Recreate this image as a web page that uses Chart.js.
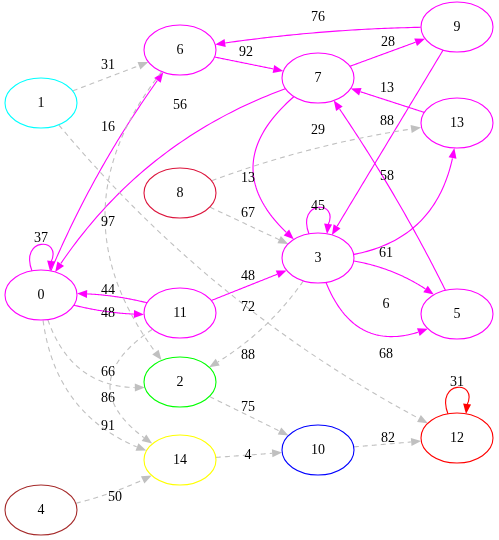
<!DOCTYPE html>
<html><head><meta charset="utf-8">
<script src="https://cdn.jsdelivr.net/npm/chart.js@4/dist/chart.umd.min.js"></script>
<style>html,body{margin:0;padding:0;background:#fff}#w{width:499px;height:540px}</style>
</head><body><div id="w"><canvas id="c"></canvas></div>
<script>
const nodeIds   = [0,1,2,3,4,5,6,7,8,9,10,11,12,13,14];
const nodeX     = [41,41,180,318,41,457,180,318,180,457,318,180,457,457,180];
const nodeY     = [295,103,382,258,510,314,50,78,193,27,450,313,438,123,460];
const nodeColor = ['#ff00ff','#00ffff','#00ff00','#ff00ff','#a52a2a','#ff00ff','#ff00ff','#ff00ff','#dc143c','#ff00ff','#0000ff','#ff00ff','#ff0000','#ff00ff','#ffff00'];
// edges: from, to, label, solid?, bend, labelX, labelY
const edgeFrom  = [1,6,7,9,9,5,7,0,7,13,8,8,6,11,0,11,1,3,3,3,11,0,0,2,10,14,4,3,3,0,12];
const edgeTo    = [6,7,9,6,3,7,0,6,3,7,13,3,2,0,11,3,12,5,5,2,14,2,14,10,12,10,14,13,3,0,12];
const edgeLabel = ['31','92','28','76','58','29','56','16','13','13','88','67','97','44','48','48','72','6','68','88','66','86','91','75','82','4','50','61','45','37','31'];
const edgeSolid = [0,1,1,1,1,1,1,1,1,1,0,0,0,1,1,1,0,1,1,0,0,0,0,0,0,0,0,1,1,1,1];
const edgeBend  = [0,0,0,12,0,12,70,-20,130,0,-20,0,150,16,16,0,60,-30,100,-30,140,85,85,0,0,0,15,90,0,0,0];
const labelX    = [108,246,388,318,387,318,180,108,248,387,387,248,108,108,108,248,248,386,386,248,108,108,108,248,388,248,115,386,318,41,457];
const labelY    = [65,52,42,17,176,130,105,127,178,88,121,213,222,290,313,276,307,304,354,355,372,398,426,407,438,455,497,253,206,238,382];

const graphPlugin = {
  id:'graph',
  afterDatasetsDraw(chart){
    const ctx = chart.ctx, xs = chart.scales.x, ys = chart.scales.y;
    const P = i => [xs.getPixelForValue(nodeX[i]), ys.getPixelForValue(nodeY[i])];
    const RX = 36, RY = 25;
    const inside = (p,i) => { const c=P(i); const dx=(p[0]-c[0])/RX, dy=(p[1]-c[1])/RY; return dx*dx+dy*dy<1; };
    const arrow = (x,y,ang,col) => {
      ctx.save(); ctx.setLineDash([]); ctx.fillStyle=col;
      ctx.beginPath(); ctx.moveTo(x,y);
      ctx.lineTo(x-10*Math.cos(ang)+4*Math.sin(ang), y-10*Math.sin(ang)-4*Math.cos(ang));
      ctx.lineTo(x-10*Math.cos(ang)-4*Math.sin(ang), y-10*Math.sin(ang)+4*Math.cos(ang));
      ctx.closePath(); ctx.fill(); ctx.restore();
    };
    ctx.save();
    ctx.lineWidth = 1.1;
    for (let e=0;e<edgeFrom.length;e++){
      const a=edgeFrom[e], b=edgeTo[e];
      const col = edgeSolid[e] ? (a===12?'#ff0000':'#ff00ff') : '#c0c0c0';
      ctx.strokeStyle=col; ctx.setLineDash(edgeSolid[e]?[]:[5,4]);
      if (a===b){
        const c=P(a);
        const s=[c[0]-9,c[1]-RY+1], t=[c[0]+9,c[1]-RY+1];
        ctx.beginPath(); ctx.moveTo(s[0],s[1]);
        ctx.bezierCurveTo(c[0]-22,c[1]-58,c[0]+22,c[1]-58,t[0]+1,t[1]-9);
        ctx.stroke();
        arrow(t[0],t[1],Math.atan2(9,-1),col);
        continue;
      }
      const p0=P(a), p2=P(b);
      const dx=p2[0]-p0[0], dy=p2[1]-p0[1], L=Math.hypot(dx,dy);
      const cp=[(p0[0]+p2[0])/2 + (-dy/L)*edgeBend[e], (p0[1]+p2[1])/2 + (dx/L)*edgeBend[e]];
      const Q=t=>[(1-t)*(1-t)*p0[0]+2*(1-t)*t*cp[0]+t*t*p2[0],(1-t)*(1-t)*p0[1]+2*(1-t)*t*cp[1]+t*t*p2[1]];
      let t0=0,t1=1;
      while(t0<1 && inside(Q(t0),a)) t0+=0.002;
      while(t1>0 && inside(Q(t1),b)) t1-=0.002;
      const tip=Q(t1);
      let tb=t1; while(tb>t0 && Math.hypot(Q(tb)[0]-tip[0],Q(tb)[1]-tip[1])<10) tb-=0.002;
      ctx.beginPath();
      const N=60;
      for(let k=0;k<=N;k++){ const t=t0+(tb-t0)*k/N; const q=Q(t); if(k===0) ctx.moveTo(q[0],q[1]); else ctx.lineTo(q[0],q[1]); }
      ctx.stroke();
      const base=Q(tb);
      arrow(tip[0],tip[1],Math.atan2(tip[1]-base[1],tip[0]-base[0]),col);
    }
    ctx.setLineDash([]);
    for (let i=0;i<nodeIds.length;i++){
      const c=P(i);
      ctx.beginPath(); ctx.ellipse(c[0],c[1],RX,RY,0,0,Math.PI*2);
      ctx.fillStyle='#fff'; ctx.fill();
      ctx.strokeStyle=nodeColor[i]; ctx.lineWidth=1.1; ctx.stroke();
      ctx.fillStyle='#000'; ctx.font='14px "Liberation Serif"'; ctx.textAlign='center'; ctx.textBaseline='middle';
      ctx.fillText(String(nodeIds[i]),c[0],c[1]);
    }
    ctx.font='14px "Liberation Serif"'; ctx.fillStyle='#000'; ctx.textAlign='center'; ctx.textBaseline='middle';
    for (let e=0;e<edgeLabel.length;e++){
      if(!edgeLabel[e]) continue;
      ctx.fillText(edgeLabel[e], xs.getPixelForValue(labelX[e]), ys.getPixelForValue(labelY[e]));
    }
    ctx.restore();
  }
};

new Chart(document.getElementById('c'), {
  type:'scatter',
  data:{datasets:[{data:nodeIds.map((id,i)=>({x:nodeX[i],y:nodeY[i]})),pointRadius:0}]},
  options:{
    responsive:true, maintainAspectRatio:false, animation:false,
    layout:{padding:0},
    scales:{x:{type:'linear',min:0,max:499,display:false},y:{min:0,max:540,reverse:true,display:false}},
    plugins:{legend:{display:false},tooltip:{enabled:false}}
  },
  plugins:[graphPlugin]
});
</script></body></html>
